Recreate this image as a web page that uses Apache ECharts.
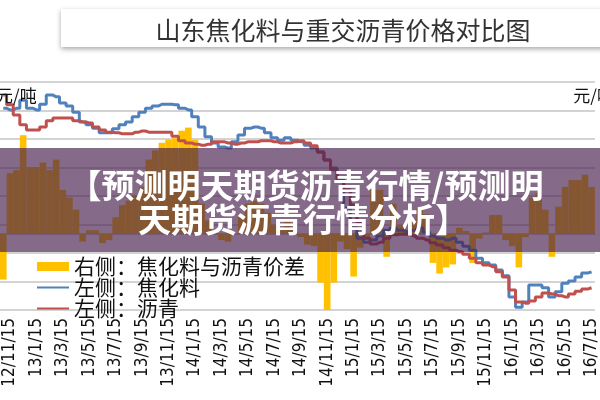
<!DOCTYPE html>
<html>
<head>
<meta charset="utf-8">
<script src="https://cdn.jsdelivr.net/npm/echarts@6/dist/echarts.min.js"></script>
<style>
  html, body { margin: 0; padding: 0; background: #fff; }
  #main { width: 600px; height: 400px; }
</style>
</head>
<body>
<div id="main"></div>
<script>
// 半月一个点：每月1日、15日
var categories = (
  '12/11/1 12/11/15 12/12/1 12/12/15 ' +
  '13/1/1 13/1/15 13/2/1 13/2/15 13/3/1 13/3/15 13/4/1 13/4/15 13/5/1 13/5/15 13/6/1 13/6/15 ' +
  '13/7/1 13/7/15 13/8/1 13/8/15 13/9/1 13/9/15 13/10/1 13/10/15 13/11/1 13/11/15 13/12/1 13/12/15 ' +
  '14/1/1 14/1/15 14/2/1 14/2/15 14/3/1 14/3/15 14/4/1 14/4/15 14/5/1 14/5/15 14/6/1 14/6/15 ' +
  '14/7/1 14/7/15 14/8/1 14/8/15 14/9/1 14/9/15 14/10/1 14/10/15 14/11/1 14/11/15 14/12/1 14/12/15 ' +
  '15/1/1 15/1/15 15/2/1 15/2/15 15/3/1 15/3/15 15/4/1 15/4/15 15/5/1 15/5/15 15/6/1 15/6/15 ' +
  '15/7/1 15/7/15 15/8/1 15/8/15 15/9/1 15/9/15 15/10/1 15/10/15 15/11/1 15/11/15 15/12/1 15/12/15 ' +
  '16/1/1 16/1/15 16/2/1 16/2/15 16/3/1 16/3/15 16/4/1 16/4/15 16/5/1 16/5/15 16/6/1 16/6/15 ' +
  '16/7/1 16/7/15'
).split(' ')

// 左侧：焦化料（元/吨）
var cokerFeed = [
  5040, 5010, 5040, 5180, 5040, 5010, 5110, 5270, 5240, 5130,
  5080, 4970, 4800, 4750, 4690, 4610, 4610, 4680, 4750, 4800,
  4890, 4970, 5040, 5080, 5110, 5110, 5100, 5040, 5010, 4890,
  4710, 4540, 4430, 4360, 4340, 4450, 4570, 4690, 4710, 4690,
  4610, 4520, 4480, 4520, 4480, 4450, 4390, 4340, 4270, 4130,
  3990, 3780, 3290, 2940, 2760, 2690, 2730, 2800, 2900, 2940,
  2900, 2870, 2900, 2940, 2870, 2800, 2760, 2730, 2760, 2690,
  2620, 2550, 2410, 2330, 2290, 2200, 2100, 1730, 1550, 1640,
  1940, 1940, 1890, 1730, 1820, 1970, 2010, 2080, 2150, 2170
]

// 左侧：沥青（元/吨）
var asphalt = [
  5270, 5100, 4920, 4750, 4660, 4660, 4710, 4820, 4870, 4870,
  4870, 4820, 4800, 4780, 4710, 4660, 4620, 4610, 4590, 4590,
  4620, 4640, 4620, 4620, 4620, 4620, 4550, 4470, 4430, 4410,
  4390, 4410, 4450, 4450, 4430, 4410, 4430, 4450, 4450, 4470,
  4470, 4450, 4430, 4430, 4450, 4470, 4430, 4380, 4270, 4130,
  3960, 3780, 3610, 3340, 3040, 2760, 2660, 2690, 2760, 2820,
  2830, 2830, 2800, 2760, 2730, 2680, 2640, 2590, 2550, 2520,
  2480, 2410, 2330, 2290, 2260, 2170, 2080, 1850, 1640, 1620,
  1660, 1730, 1800, 1780, 1750, 1730, 1780, 1830, 1870, 1890
]

// 右侧：焦化料与沥青价差（元/吨）
var spread = [
  -300, 400, 420, 650, 440, 440, 470, 420, 490, 290,
  240, 160, -50, 25, 25, -60, -40, 110, 190, 220,
  255, 310, 490, 550, 600, 620, 630, 680, 700, 620,
  200, 90, 10, -40, -50, 0, 120, 200, 220, 200,
  140, 60, 40, 80, 30, -20, -70, -80, -320, -500,
  -320, -50, -100, -280, -90, -20, 290, 290, -150, 200,
  60, 30, 100, 170, 130, -190, -260, -220, -200, 40,
  20, -190, -30, 10, 125, 125, -40, -80, -220, -20,
  240, 270, 160, -150, 180, 310, 355, 355, 390, 310
]

var labelFont = "'Noto Sans CJK SC', sans-serif"
var showTick = function (idx) { return idx % 4 === 1 }

var chart = echarts.init(document.getElementById('main'))
var option = {
  animation: false,
  backgroundColor: '#fff',
  title: {
    text: '山东焦化料与重交沥青价格对比图',
    left: 338,
    top: 13,
    textAlign: 'center',
    textStyle: { fontSize: 25, fontWeight: 'normal', color: '#333', fontFamily: labelFont },
    z: 10
  },
  grid: { left: -5, right: -2, top: 82, bottom: 90 },
  legend: {
    orient: 'vertical',
    left: 31,
    top: 251,
    itemGap: 0,
    itemWidth: 32,
    itemHeight: 9,
    textStyle: { fontSize: 21, lineHeight: 18, color: '#111', fontFamily: labelFont },
    data: [
      { name: '右侧：焦化料与沥青价差', icon: 'rect' },
      { name: '左侧：焦化料', itemStyle: { opacity: 0 } },
      { name: '左侧：沥青', itemStyle: { opacity: 0 } }
    ]
  },
  xAxis: {
    type: 'category',
    data: categories,
    boundaryGap: true,
    axisLine: { lineStyle: { color: '#bfbfbf', width: 1.5 } },
    axisTick: { interval: showTick, alignWithLabel: true, length: 5, lineStyle: { color: '#bfbfbf' } },
    axisLabel: {
      interval: showTick,
      rotate: 90,
      margin: 8,
      fontSize: 17,
      color: '#111',
      fontFamily: "'Liberation Sans Narrow', 'DejaVu Sans Condensed', sans-serif"
    }
  },
  yAxis: [
    {
      type: 'value',
      min: 1500,
      max: 5500,
      interval: 500,
      axisLabel: { show: false },
      axisLine: { show: false },
      axisTick: { show: false },
      splitLine: { lineStyle: { color: '#c4c4c4', width: 1.5 } }
    },
    {
      type: 'value',
      min: -500,
      max: 1000,
      interval: 250,
      axisLabel: { show: false },
      axisLine: { show: false },
      axisTick: { show: false },
      splitLine: { show: false }
    }
  ],
  series: [
    {
      name: '右侧：焦化料与沥青价差',
      type: 'bar',
      yAxisIndex: 1,
      data: spread,
      barWidth: '100%',
      itemStyle: { color: '#ffc000' }
    },
    {
      name: '左侧：焦化料',
      type: 'line',
      step: 'middle',
      data: cokerFeed,
      symbol: 'none',
      lineStyle: { color: '#4f81bd', width: 3 },
      itemStyle: { color: '#4f81bd' }
    },
    {
      name: '左侧：沥青',
      type: 'line',
      step: 'middle',
      data: asphalt,
      symbol: 'none',
      lineStyle: { color: '#c0504d', width: 3 },
      itemStyle: { color: '#c0504d' }
    }
  ],
  graphic: [
    // 标题框
    {
      type: 'rect',
      left: 61, top: 9,
      shape: { width: 560, height: 38 },
      style: { fill: '#fff', shadowBlur: 5, shadowOffsetY: 2, shadowColor: 'rgba(0,0,0,0.35)' },
      z: 1
    },
    {
      type: 'text',
      left: -4, top: 87,
      style: { text: '元/吨', fill: '#111', font: '17px ' + labelFont },
      z: 20
    },
    {
      type: 'text',
      right: -14, top: 87,
      style: { text: '元/吨', fill: '#111', font: '17px ' + labelFont },
      z: 20
    },
    // 半透明横幅
    {
      type: 'rect',
      left: 0, top: 148,
      shape: { width: 600, height: 104 },
      style: { fill: 'rgba(70,30,76,0.66)' },
      z: 100
    },
    {
      type: 'text',
      x: 306, y: 185,
      style: {
        text: '【预测明天期货沥青行情/预测明',
        font: 'bold 33px ' + labelFont,
        fill: '#fff',
        align: 'center',
        verticalAlign: 'middle'
      },
      z: 101
    },
    {
      type: 'text',
      x: 303, y: 219,
      style: {
        text: '天期货沥青行情分析】',
        font: 'bold 33px ' + labelFont,
        fill: '#fff',
        align: 'center',
        verticalAlign: 'middle'
      },
      z: 101
    }
  ]
}
chart.setOption(option)
</script>
</body>
</html>
